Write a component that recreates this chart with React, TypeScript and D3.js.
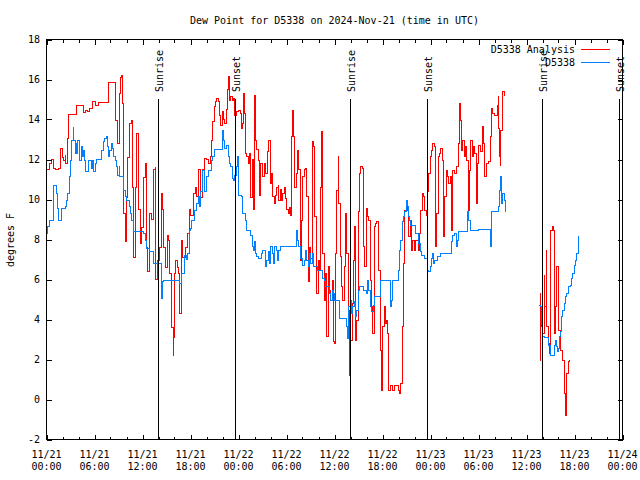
import React from "react";
import * as d3 from "d3";

type Pt = [number, number];

// time in hours since 2024-11-21 00:00 UTC, value in degrees F
const START = Date.UTC(2024, 10, 21);
const END = Date.UTC(2024, 10, 24);

const TITLE = "Dew Point for D5338 on 2024-Nov-21 (time in UTC)";
const Y_LABEL = "degrees F";
const SERIES_NAMES = ["D5338 Analysis", "D5338"];
const SERIES_COLORS = ["#ff0000", "#0080ff"];

const yTicks = [-2, 0, 2, 4, 6, 8, 10, 12, 14, 16, 18];
const sunrises = [13.93, 37.9, 61.93];
const sunsets = [23.5, 47.52, 71.52];

const analysisA: Pt[] = [
  [0, 11.5], [0.33, 11.8], [0.67, 12.0], [0.83, 11.55], [1.17, 11.5], [1.5, 11.55], [1.75, 12.55], [2.0, 12.1],
  [2.17, 11.95], [2.33, 12.2], [2.42, 11.8], [2.58, 13.05], [2.75, 14.25], [3.75, 14.7], [4.67, 14.33], [4.92, 14.45],
  [5.17, 14.4], [5.42, 14.55], [5.75, 14.9], [6.17, 14.7], [6.5, 14.85], [7.75, 15.83], [8.67, 13.97], [8.83, 12.8],
  [9.08, 15.3], [9.25, 16.1], [9.42, 16.2], [9.5, 14.8], [9.67, 9.3], [9.83, 7.9], [10.0, 10.1], [10.17, 12.1],
  [10.42, 13.8], [10.67, 13.97], [10.75, 10.6], [10.92, 7.1], [11.08, 10.6], [11.25, 13.3], [11.5, 9.5], [11.75, 7.8],
  [11.92, 8.6], [12.17, 11.1], [12.33, 11.8], [12.5, 7.6], [12.67, 6.4], [12.92, 9.3], [13.17, 9.0], [13.33, 11.5],
  [13.58, 11.6], [13.67, 6.0], [13.92, 6.97], [14.17, 7.6], [14.33, 10.3], [14.5, 9.5], [14.67, 7.6], [14.83, 6.6],
  [15.08, 8.2], [15.25, 7.96], [15.42, 6.3], [15.67, 3.6], [15.83, 2.2], [15.92, 3.1], [16.0, 6.3], [16.17, 6.97],
  [16.33, 6.6], [16.5, 6.3], [16.67, 4.3], [16.83, 7.96], [17.0, 7.1], [17.42, 7.6], [17.67, 8.3], [17.83, 9.5],
  [17.96, 9.2], [18.38, 10.3], [18.63, 10.6], [18.8, 10.13], [18.96, 11.5], [19.2, 10.1], [19.46, 11.5], [19.71, 12.05],
  [19.96, 12.0], [20.2, 11.8], [20.46, 12.13], [20.63, 12.97], [20.8, 13.9], [20.96, 14.63], [21.13, 14.9], [21.3, 15.05],
  [21.46, 14.9], [21.63, 14.2], [21.8, 13.7], [21.96, 14.4], [22.13, 14.0], [22.29, 13.8], [22.46, 14.5], [22.63, 15.5],
  [22.71, 16.13], [22.88, 14.97], [23.04, 15.13], [23.21, 14.97], [23.38, 15.05], [23.54, 14.2], [23.71, 14.38], [23.96, 14.47],
  [24.21, 14.3], [24.38, 13.55], [24.5, 13.8], [24.63, 15.3], [24.79, 14.3], [24.88, 12.3], [25.04, 12.13], [25.21, 11.8],
  [25.38, 12.3], [25.54, 10.1], [25.71, 12.0], [25.88, 9.5], [25.96, 15.2], [26.13, 12.97], [26.29, 12.5], [26.46, 11.97],
  [26.63, 10.2], [26.79, 11.8], [26.96, 11.13], [27.21, 11.8], [27.38, 11.3], [27.63, 12.4], [27.79, 12.97], [27.96, 10.8],
  [28.13, 11.3], [28.29, 10.13], [28.46, 9.8], [28.63, 10.2], [28.79, 10.6], [28.96, 10.7], [29.04, 9.97], [29.21, 10.5],
  [29.38, 9.97], [29.54, 10.3], [29.71, 10.6], [29.88, 10.05], [30.04, 9.5], [30.21, 9.3], [30.38, 9.6], [30.54, 9.2],
  [30.63, 13.13], [30.71, 14.47], [30.88, 13.13], [31.04, 10.6], [31.21, 11.3], [31.38, 12.47], [31.54, 11.5], [31.71, 6.97],
  [31.88, 8.97], [32.04, 11.13], [32.21, 11.5], [32.38, 11.55], [32.54, 10.13], [32.71, 5.9], [32.88, 7.6], [33.04, 7.05],
  [33.21, 12.88], [33.38, 12.63], [33.54, 9.13], [33.71, 7.3], [33.79, 5.3], [33.96, 6.97], [34.13, 6.47], [34.29, 10.6],
  [34.38, 13.38], [34.54, 7.3], [34.71, 4.97], [34.88, 6.3], [35.04, 3.13], [35.21, 6.63], [35.38, 5.47], [35.54, 4.97],
  [35.71, 5.97], [35.88, 2.88], [35.96, 2.8], [36.13, 7.3], [36.29, 10.47], [36.46, 12.13], [36.54, 9.8], [36.71, 7.13],
  [36.88, 5.63], [37.04, 4.97], [37.21, 6.63], [37.38, 9.3], [37.54, 7.3], [37.71, 4.47], [37.88, 1.2], [38.04, 2.97],
  [38.21, 4.8], [38.38, 6.97], [38.54, 8.63], [38.63, 2.97], [38.79, 3.97], [38.96, 9.38], [39.13, 11.3], [39.29, 11.63],
  [39.46, 11.55], [39.63, 7.63], [39.79, 6.63], [39.96, 9.55], [40.13, 9.13], [40.29, 8.97], [40.46, 5.97], [40.63, 4.63],
  [40.79, 3.3], [40.96, 8.63], [41.13, 8.8], [41.29, 8.88], [41.54, 6.47], [41.71, 2.47], [41.88, 0.47], [42.04, 3.63],
  [42.21, 4.63], [42.38, 3.8], [42.54, 3.97], [42.63, 3.3], [42.79, 0.47], [43.04, 0.72], [43.29, 0.47], [43.54, 0.72],
  [43.96, 0.47], [44.13, 0.3], [44.29, 0.8], [44.46, 3.63], [44.63, 6.8], [44.79, 9.47], [44.96, 9.97], [45.13, 9.47],
  [45.29, 8.13], [45.46, 8.97], [45.63, 7.47], [45.79, 7.97], [45.96, 7.47], [46.13, 7.97], [46.46, 7.47], [46.63, 8.3],
  [46.79, 9.47], [46.96, 10.3], [47.13, 10.13], [47.29, 9.47], [47.46, 9.2], [47.63, 10.38], [47.79, 11.3], [47.96, 12.13],
  [48.13, 12.47], [48.29, 12.8], [48.46, 12.63], [48.63, 7.63], [48.79, 9.3], [48.96, 12.13], [49.13, 12.3], [49.29, 12.55],
  [49.46, 11.97], [49.63, 8.13], [49.79, 10.13], [49.96, 11.47], [50.13, 11.13], [50.29, 10.8], [50.46, 11.13], [50.63, 8.47],
  [50.79, 11.47], [50.96, 11.3], [51.29, 11.63], [51.46, 12.8], [51.63, 14.8], [51.71, 13.97], [51.88, 12.47], [52.04, 12.97],
  [52.21, 12.13], [52.38, 12.63], [52.54, 11.97], [52.71, 9.47], [52.88, 11.47], [53.04, 12.97], [53.21, 12.13], [53.38, 12.63],
  [53.54, 12.3], [53.71, 9.8], [53.88, 11.8], [53.96, 12.7], [54.29, 12.38], [54.46, 13.13], [54.54, 13.63], [54.63, 12.8],
  [54.71, 11.8], [54.79, 11.13], [54.96, 11.8], [55.29, 11.88], [55.54, 13.13], [55.63, 14.55], [55.79, 14.3], [56.04, 14.2],
  [56.38, 14.7], [56.46, 15.13], [56.54, 13.55], [56.63, 12.13], [56.71, 11.7], [56.79, 13.47], [56.96, 15.38], [57.13, 15.38],
  [57.29, 15.2],
];

const analysisB: Pt[] = [
  [61.63, 1.97], [61.71, 5.3], [61.79, 4.3], [61.88, 3.63], [62.04, 3.3], [62.21, 6.2], [62.29, 4.63], [62.46, 7.47],
  [62.54, 3.63], [62.71, 2.8], [62.88, 2.3], [63.04, 8.47], [63.21, 8.63], [63.38, 8.47], [63.46, 3.3], [63.63, 4.63],
  [63.79, 6.63], [64.04, 3.47], [64.21, 2.47], [64.54, 1.97], [64.71, 1.8], [64.79, 0.3], [64.88, -0.78], [64.96, 0.3],
  [65.04, 1.3], [65.21, 1.88], [65.38, 2.0],
];

const stationA: Pt[] = [
  [0, 8.3], [0.17, 8.63], [0.33, 8.97], [0.83, 9.47], [0.92, 10.72], [1.25, 10.3], [1.42, 9.55], [1.5, 8.97],
  [1.83, 9.55], [2.33, 9.63], [2.5, 9.97], [2.67, 10.3], [2.83, 11.13], [3.0, 11.97], [3.17, 12.97], [3.33, 13.6],
  [3.42, 12.97], [3.58, 12.3], [3.75, 12.8], [3.83, 12.3], [3.92, 12.97], [4.08, 12.47], [4.17, 11.97], [4.33, 12.63],
  [4.5, 12.13], [4.58, 12.47], [4.75, 11.97], [4.92, 11.38], [5.25, 11.97], [5.58, 11.55], [5.75, 11.97], [5.92, 11.38],
  [6.08, 11.8], [6.25, 12.0], [6.92, 12.47], [7.08, 12.88], [7.25, 13.05], [7.5, 13.13], [7.67, 12.63], [7.75, 12.13],
  [7.92, 12.47], [8.08, 12.8], [8.25, 12.55], [8.42, 12.13], [8.58, 11.97], [8.75, 11.63], [8.92, 11.2], [9.08, 11.63],
  [9.17, 11.13], [9.67, 10.47], [9.83, 10.13], [10.0, 9.97], [10.33, 9.63], [10.5, 9.3], [10.67, 8.97], [10.92, 8.38],
  [12.08, 8.3], [12.33, 7.97], [12.5, 7.55], [12.83, 7.38], [13.33, 6.8], [14.33, 5.97], [14.42, 5.05], [14.5, 5.88],
  [14.58, 5.97], [16.67, 5.8], [16.83, 6.3], [17.25, 7.22], [17.5, 7.0], [17.67, 7.3], [17.83, 8.47],
  [17.96, 8.55], [18.13, 8.97], [18.54, 9.47], [18.71, 9.8], [18.96, 10.13], [19.13, 9.63], [19.29, 10.38], [19.46, 10.8],
  [19.54, 11.47], [19.71, 10.38], [20.04, 11.13], [20.21, 11.47], [20.63, 11.97], [20.79, 12.13], [20.96, 12.5], [21.96, 12.55],
  [22.04, 13.47], [22.13, 12.97], [22.29, 12.55], [22.54, 12.72], [22.71, 12.13], [22.88, 11.8], [23.04, 11.63], [23.21, 11.05],
  [23.38, 10.97], [23.54, 11.22], [23.71, 11.63], [23.88, 12.13], [23.96, 11.3], [24.04, 10.22], [24.38, 10.13], [24.54, 9.3],
  [24.88, 8.97], [25.04, 8.47], [25.54, 8.22], [25.71, 7.63], [25.88, 7.47], [26.04, 7.88], [26.13, 7.3], [26.29, 7.13],
  [26.46, 7.05], [26.88, 7.3], [27.04, 7.47], [27.38, 6.63], [27.54, 6.97], [27.71, 7.38], [27.88, 6.8], [28.04, 7.63],
  [28.21, 7.3], [28.38, 6.8], [28.54, 7.63], [28.71, 7.47], [28.88, 6.97], [29.04, 7.47], [29.21, 7.66], [31.29, 8.47],
  [31.38, 7.97], [31.54, 7.63], [31.71, 7.05], [32.04, 6.72], [32.21, 6.97], [32.38, 7.47], [32.54, 6.97], [32.71, 6.63],
  [32.88, 7.3], [33.04, 6.8], [33.21, 7.3], [33.38, 6.63], [33.88, 6.47], [34.46, 6.05], [34.71, 5.97], [34.88, 5.63],
  [35.38, 5.3], [35.54, 4.97], [35.71, 5.47], [35.88, 5.3], [35.96, 4.93], [36.63, 4.05], [37.54, 3.63], [37.63, 3.05],
  [37.71, 3.63], [37.79, 4.63], [37.96, 4.97], [38.13, 4.3], [38.29, 4.63], [38.46, 4.88], [38.63, 4.13], [38.79, 4.47],
  [38.96, 5.47], [39.13, 5.63], [39.63, 5.47], [39.96, 5.3], [40.13, 5.97], [40.29, 5.47], [40.46, 4.63], [40.63, 4.38],
  [40.88, 4.72], [41.04, 5.13], [41.71, 5.97], [42.96, 5.3], [43.04, 4.63], [43.13, 4.97], [43.21, 5.47], [43.29, 5.97],
  [44.04, 6.47], [44.13, 7.47], [44.29, 7.97], [44.46, 8.88], [44.63, 9.13], [44.79, 9.38], [44.96, 9.97], [45.13, 9.63],
  [45.21, 9.13], [45.38, 8.97], [45.54, 8.72], [46.13, 8.3], [46.54, 7.8], [46.71, 7.38], [46.88, 7.22], [47.29, 7.05],
  [47.63, 6.47], [47.79, 6.38], [47.96, 6.63], [48.13, 7.05], [48.29, 7.3], [48.38, 6.8], [48.54, 6.97], [48.88, 7.13],
  [49.29, 7.3], [50.63, 7.88], [50.71, 8.22], [51.04, 8.3], [51.21, 7.63], [51.38, 7.97], [51.54, 8.38], [52.63, 9.38],
  [52.79, 8.97], [52.96, 8.47], [53.96, 8.5], [55.54, 7.63], [55.63, 9.38], [56.46, 9.63], [56.63, 10.47], [56.79, 11.13],
  [56.88, 9.8], [57.04, 10.3], [57.21, 9.97], [57.38, 9.38],
];

const stationB: Pt[] = [
  [61.58, 4.72], [61.79, 4.63], [61.88, 3.8], [62.04, 3.13], [62.29, 3.1], [62.71, 2.72], [62.96, 2.22], [63.46, 2.72],
  [63.63, 2.97], [63.71, 2.63], [63.88, 2.38], [63.96, 2.55], [64.13, 3.13], [64.21, 3.38], [64.38, 4.13], [64.54, 4.47],
  [64.71, 4.8], [64.88, 5.13], [65.04, 5.3], [65.21, 5.63], [65.46, 5.72], [65.63, 6.05], [65.79, 6.3], [65.96, 6.72],
  [66.13, 6.97], [66.29, 7.3], [66.46, 7.8], [66.54, 8.2],
];

const W = 640;
const H = 480;
const L = 46.5;
const R = 622.5;
const T = 39.5;
const B = 439.5;
const FONT = "'DejaVu Sans Mono', 'Liberation Mono', monospace";

export default function App() {
  const x = d3.scaleUtc().domain([new Date(START), new Date(END)]).range([L, R]);
  const y = d3.scaleLinear().domain([-2, 18]).range([B, T]);
  const toDate = (h: number) => new Date(START + h * 3600000);
  const line = d3
    .line<Pt | null>()
    .defined((d) => d !== null)
    .x((d) => x(toDate((d as Pt)[0])))
    .y((d) => y((d as Pt)[1]))
    .curve(d3.curveStepAfter);

  const majorX = d3.utcHour.every(6)!.range(new Date(START), new Date(END + 1));
  const minorX = d3.utcHour.every(2)!.range(new Date(START), new Date(END + 1));
  const fmtDate = d3.utcFormat("%m/%d");
  const fmtTime = d3.utcFormat("%H:%M");

  const analysis: (Pt | null)[] = [...analysisA, null, ...analysisB];
  const station: (Pt | null)[] = [...stationA, null, ...stationB];
  const series = [analysis, station];

  const markers = [
    ...sunrises.map((h) => ({ h, label: "Sunrise" })),
    ...sunsets.map((h) => ({ h, label: "Sunset" })),
  ];

  return (
    <svg
      width={W}
      height={H}
      style={{ position: "absolute", left: 0, top: 0, background: "#fff" }}
      fontFamily={FONT}
      fontSize={10}
    >
      <rect x={0} y={0} width={W} height={H} fill="#fff" />
      <text x={(L + R) / 2} y={24} textAnchor="middle" fill="#000">
        {TITLE}
      </text>

      {/* data */}
      {series.map((s, i) => (
        <path
          key={i}
          d={line(s) || ""}
          fill="none"
          stroke={SERIES_COLORS[i]}
          strokeWidth={1}
          shapeRendering="crispEdges"
        />
      ))}

      {/* sunrise / sunset markers */}
      {markers.map((m, i) => {
        const mx = Math.round(x(toDate(m.h))) + 0.5;
        return (
          <g key={i}>
            <line x1={mx} x2={mx} y1={99} y2={B} stroke="#000" strokeWidth={1} shapeRendering="crispEdges" />
            <text
              transform={`translate(${mx + 1},92) rotate(-90)`}
              dominantBaseline="central"
              fill="#000"
            >
              {m.label}
            </text>
          </g>
        );
      })}

      {/* frame */}
      <rect x={L} y={T} width={R - L} height={B - T} fill="none" stroke="#000" strokeWidth={1} shapeRendering="crispEdges" />

      {/* x ticks */}
      {minorX.map((d, i) => {
        const tx = Math.round(x(d)) + 0.5;
        return (
          <g key={"mx" + i}>
            <line x1={tx} x2={tx} y1={B} y2={B - 3} stroke="#000" shapeRendering="crispEdges" />
            <line x1={tx} x2={tx} y1={T} y2={T + 3} stroke="#000" shapeRendering="crispEdges" />
          </g>
        );
      })}
      {majorX.map((d, i) => {
        const tx = Math.round(x(d)) + 0.5;
        return (
          <g key={"Mx" + i}>
            <line x1={tx} x2={tx} y1={B} y2={B - 5} stroke="#000" shapeRendering="crispEdges" />
            <line x1={tx} x2={tx} y1={T} y2={T + 5} stroke="#000" shapeRendering="crispEdges" />
            <text x={x(d)} y={457.5} textAnchor="middle" fill="#000">
              {fmtDate(d)}
            </text>
            <text x={x(d)} y={469.5} textAnchor="middle" fill="#000">
              {fmtTime(d)}
            </text>
          </g>
        );
      })}

      {/* y ticks */}
      {yTicks.map((v) => {
        const ty = Math.round(y(v)) + 0.5;
        return (
          <g key={"y" + v}>
            <line x1={L} x2={L + 5} y1={ty} y2={ty} stroke="#000" shapeRendering="crispEdges" />
            <line x1={R} x2={R - 5} y1={ty} y2={ty} stroke="#000" shapeRendering="crispEdges" />
            <text x={40} y={y(v)} textAnchor="end" dominantBaseline="central" fill="#000">
              {v}
            </text>
          </g>
        );
      })}

      <text
        transform={`translate(10,240) rotate(-90)`}
        textAnchor="middle"
        dominantBaseline="central"
        fill="#000"
      >
        {Y_LABEL}
      </text>

      {/* legend */}
      {SERIES_NAMES.map((name, i) => (
        <g key={"lg" + i}>
          <text x={575} y={53.3 + i * 12.7} textAnchor="end" fill="#000">
            {name}
          </text>
          <line
            x1={581}
            x2={610}
            y1={49.5 + i * 13}
            y2={49.5 + i * 13}
            stroke={SERIES_COLORS[i]}
            strokeWidth={1}
            shapeRendering="crispEdges"
          />
        </g>
      ))}
    </svg>
  );
}
